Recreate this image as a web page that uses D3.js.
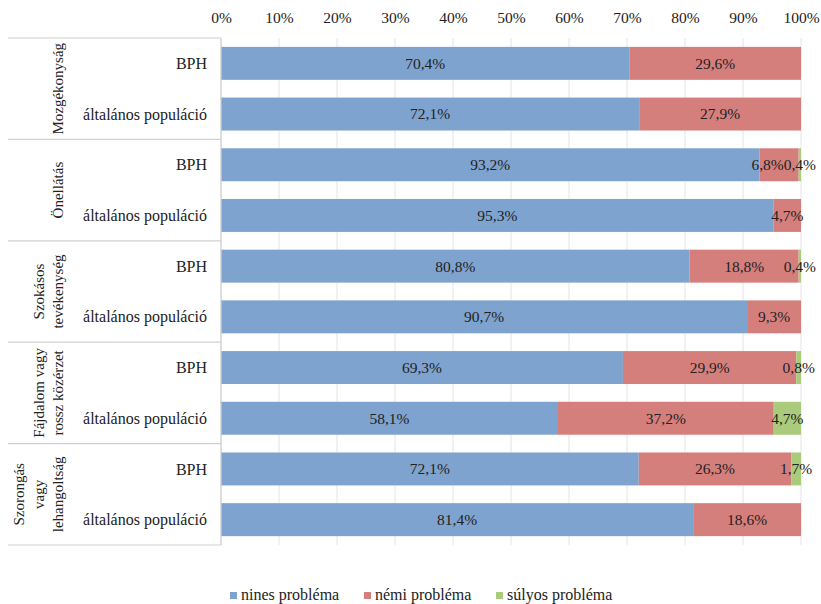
<!DOCTYPE html>
<html>
<head>
<meta charset="utf-8">
<script src="https://cdn.jsdelivr.net/npm/d3@7/dist/d3.min.js"></script>
<style>
  body { margin: 0; background: #fff; }
</style>
</head>
<body>
<div id="chart"></div>
<script>
// groups (rotated labels, one array entry per line) and rows
var groups = [
  ["Mozgékonyság"],
  ["Önellátás"],
  ["Szokásos", "tevékenység"],
  ["Fájdalom vagy", "rossz közérzet"],
  ["Szorongás", "vagy", "lehangoltság"]
];
var subLabels = ["BPH", "általános populáció"];
var legendLabels = ["nines probléma", "némi probléma", "súlyos probléma"];
var colors = ["#7fa3cf", "#d57f7d", "#a9cb7b"];

// values per row, in group order (BPH, általános populáció)
var nincs = [70.4, 72.1, 93.2, 95.3, 80.8, 90.7, 69.3, 58.1, 72.1, 81.4];
var nemi  = [29.6, 27.9, 6.8, 4.7, 18.8, 9.3, 29.9, 37.2, 26.3, 18.6];
var sulyos = [0, 0, 0.4, 0, 0.4, 0, 0.8, 4.7, 1.7, 0];

var xTicks = [0, 10, 20, 30, 40, 50, 60, 70, 80, 90, 100];

var W = 821, H = 604;
var m = {top: 38, left: 221, right: 20, bottom: 59};
var tableLeft = 8;
var FS = 16;
var FONT = "'Liberation Serif'";

var rows = nincs.map(function(v, i) {
  return {id: i, g: Math.floor(i / 2), sub: subLabels[i % 2], vals: [v, nemi[i], sulyos[i]]};
});

var svg = d3.select("#chart").append("svg")
  .attr("width", W).attr("height", H);

var x = d3.scaleLinear().domain([0, 100]).range([m.left, 801]);
var y = d3.scaleBand().domain(rows.map(function(d) { return d.id; }))
  .range([m.top, H - m.bottom]).paddingInner(0.35).paddingOuter(0.175);
var yG = d3.scaleBand().domain(d3.range(groups.length)).range([m.top, H - m.bottom]);

// gridlines
svg.append("g").selectAll("line").data(xTicks).enter().append("line")
  .attr("x1", function(d) { return x(d); }).attr("x2", function(d) { return x(d); })
  .attr("y1", m.top).attr("y2", H - m.bottom)
  .attr("stroke", "#e4e4e4").attr("stroke-width", 1);

// top axis
var xAxis = d3.axisTop(x).tickValues(xTicks).tickSize(0).tickPadding(0)
  .tickFormat(function(d) { return d + "%"; });
var gx = svg.append("g").attr("transform", "translate(0,23)").call(xAxis);
gx.select(".domain").remove();
gx.selectAll("text").attr("font-size", FS - 0.5).attr("fill", "#222");

// stacked bars (100% stacked)
var stackRows = rows.map(function(r) {
  var s = d3.sum(r.vals), acc = 0;
  return r.vals.map(function(v, k) {
    var seg = {row: r, k: k, v: v, x0: acc / s * 100, x1: (acc + v) / s * 100};
    acc += v;
    return seg;
  });
});
var segs = [].concat.apply([], stackRows).filter(function(d) { return d.v > 0; });

svg.append("g").selectAll("rect").data(segs).enter().append("rect")
  .attr("x", function(d) { return x(d.x0); })
  .attr("y", function(d) { return y(d.row.id); })
  .attr("width", function(d) { return x(d.x1) - x(d.x0); })
  .attr("height", y.bandwidth())
  .attr("fill", function(d) { return colors[d.k]; });

var labels = svg.append("g").selectAll("text").data(segs).enter().append("text")
  .attr("x", function(d) { return x((d.x0 + d.x1) / 2); })
  .attr("y", function(d) { return y(d.row.id) + y.bandwidth() / 2; })
  .attr("dy", "0.35em")
  .attr("text-anchor", "middle")
  .attr("font-size", FS - 0.5)
  .attr("fill", "#222")
  .text(function(d) { return d3.format(".1f")(d.v).replace(".", ",") + "%"; });

// left table lines
var tbl = svg.append("g").attr("stroke", "#d0d0d0").attr("stroke-width", 1.2);
tbl.selectAll("line.h").data(d3.range(groups.length + 1)).enter().append("line")
  .attr("x1", tableLeft).attr("x2", m.left)
  .attr("y1", function(i) { return i < groups.length ? yG(i) : H - m.bottom; })
  .attr("y2", function(i) { return i < groups.length ? yG(i) : H - m.bottom; });
tbl.append("line").attr("x1", m.left).attr("x2", m.left)
  .attr("y1", m.top).attr("y2", H - m.bottom);

// sub labels
svg.append("g").selectAll("text").data(rows).enter().append("text")
  .attr("x", 207)
  .attr("y", function(d) { return y(d.id) + y.bandwidth() / 2; })
  .attr("dy", "0.35em")
  .attr("text-anchor", "end")
  .attr("font-size", FS)
  .attr("fill", "#222")
  .text(function(d) { return d.sub; });

// group labels, rotated
var gl = svg.append("g").selectAll("text").data(groups).enter().append("text")
  .attr("transform", function(d, i) {
    var cy = yG(i) + yG.bandwidth() / 2;
    var n = d.length;
    return "translate(" + (58 - (n - 1) * 19.5) + "," + cy + ") rotate(-90)";
  })
  .attr("text-anchor", "middle")
  .attr("font-size", 15)
  .attr("fill", "#222");
gl.selectAll("tspan").data(function(d) { return d; }).enter().append("tspan")
  .attr("x", 0)
  .attr("dy", function(d, i) { return i === 0 ? "0.35em" : "19.5"; })
  .text(function(d) { return d; });

// legend
var legX = [230, 364, 496];
var leg = svg.append("g").selectAll("g").data(legendLabels).enter().append("g")
  .attr("transform", function(d, i) { return "translate(" + legX[i] + ",600)"; });
leg.append("rect").attr("x", 0).attr("y", -8).attr("width", 7).attr("height", 7)
  .attr("fill", function(d, i) { return colors[i]; });
leg.append("text").attr("x", 11).attr("y", 0).attr("font-size", FS).attr("fill", "#222")
  .text(function(d) { return d; });

// every text gets the serif face directly
svg.selectAll("text").style("font-family", FONT);

// push labels left when they run into the next one in the same row
labels.each(function(d) { d.cx = x((d.x0 + d.x1) / 2); d.w = this.getComputedTextLength(); });
d3.group(segs, function(d) { return d.row.id; }).forEach(function(list) {
  for (var i = list.length - 2; i >= 0; i--) {
    var a = list[i], b = list[i + 1];
    var over = (a.cx + a.w / 2) - (b.cx - b.w / 2);
    if (over > 0) a.cx -= over;
  }
});
labels.attr("x", function(d) { return d.cx; });
</script>
</body>
</html>
